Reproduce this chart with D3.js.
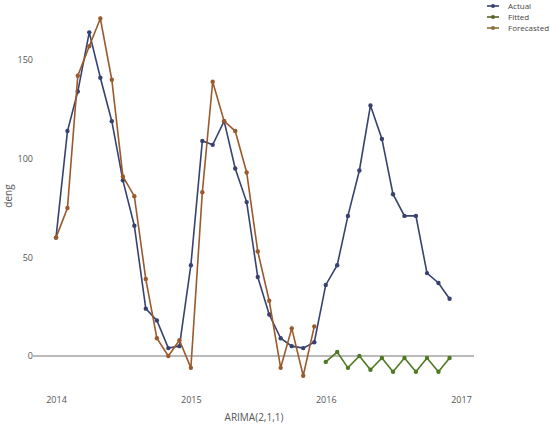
<!DOCTYPE html>
<html>
<head>
<meta charset="utf-8">
<script src="https://cdn.jsdelivr.net/npm/d3@7"></script>
<style>
    body { margin: 0; background: #fff; }
    svg { display: block; font-family: "Open Sans", sans-serif; }
</style>
</head>
<body>
<svg id="chart" width="550" height="424"></svg>
<script>
// monthly values
var actualStart = "2014-01";
var actual = [60, 114, 134, 164, 141, 119, 89, 66, 24, 18, 4, 5,
              46, 109, 107, 119, 95, 78, 40, 21, 9, 5, 4, 7,
              36, 46, 71, 94, 127, 110, 82, 71, 71, 42, 37, 29];
var fittedStart = "2014-01";
var fitted = [60, 75, 142, 157, 171, 140, 91, 81, 39, 9, 0, 8,
              -6, 83, 139, 119, 114, 93, 53, 28, -6, 14, -10, 15];
var forecastStart = "2016-01";
var forecast = [-3, 2, -6, 0, -7, -1, -8, -1, -8, -1, -8, -1];
var yTicks = [0, 50, 100, 150];
var xTicks = ["2014", "2015", "2016", "2017"];
var seriesNames = ["Actual", "Fitted", "Forecasted"];
var lineColors = ["#38426f", "#9a5a2c", "#4f7a22"];
var legendColors = ["#38426f", "#5b6128", "#8a7034"];

var parseMonth = d3.timeParse("%Y-%m");
var parseYear = d3.timeParse("%Y");

function toPoints(start, values) {
    var d0 = parseMonth(start);
    return values.map(function (v, i) { return { date: d3.timeMonth.offset(d0, i), value: v }; });
}

var svg = d3.select("#chart");
var x = d3.scaleTime()
    .domain([parseYear("2014"), parseYear("2017")])
    .range([56, 461]);
var y = d3.scaleLinear()
    .domain([0, 150])
    .range([356, 60]);

// zero line
svg.append("line")
    .attr("x1", 33).attr("x2", 474)
    .attr("y1", y(0)).attr("y2", y(0))
    .attr("stroke", "#777").attr("stroke-width", 1.2);

// axes (text only, like plotly)
var yAxis = d3.axisLeft(y).tickValues(yTicks).tickSize(0).tickPadding(0);
svg.append("g")
    .attr("transform", "translate(33,0)")
    .call(yAxis)
    .call(function (g) { g.select(".domain").remove(); })
    .selectAll("text")
    .attr("fill", "#555").attr("font-size", 9).attr("font-family", "Open Sans");

var xAxis = d3.axisBottom(x).tickValues(xTicks.map(parseYear)).tickFormat(d3.timeFormat("%Y")).tickSize(0).tickPadding(0);
svg.append("g")
    .attr("transform", "translate(0,397)")
    .call(xAxis)
    .call(function (g) { g.select(".domain").remove(); })
    .selectAll("text")
    .attr("fill", "#555").attr("font-size", 9).attr("font-family", "Open Sans");

// titles
svg.append("text")
    .attr("x", 254).attr("y", 421)
    .attr("text-anchor", "middle")
    .attr("font-size", 10).attr("fill", "#555")
    .text("ARIMA(2,1,1)");
svg.append("text")
    .attr("transform", "translate(12,196) rotate(-90)")
    .attr("text-anchor", "middle")
    .attr("font-size", 10).attr("fill", "#555")
    .text("deng");

var series = [toPoints(actualStart, actual), toPoints(fittedStart, fitted), toPoints(forecastStart, forecast)];
var line = d3.line()
    .x(function (d) { return x(d.date); })
    .y(function (d) { return y(d.value); });

series.forEach(function (pts, i) {
    var g = svg.append("g");
    g.append("path")
        .datum(pts)
        .attr("d", line)
        .attr("fill", "none")
        .attr("stroke", lineColors[i])
        .attr("stroke-width", 1.6);
    g.selectAll("circle")
        .data(pts)
        .enter().append("circle")
        .attr("cx", function (d) { return x(d.date); })
        .attr("cy", function (d) { return y(d.value); })
        .attr("r", 2.2)
        .attr("fill", lineColors[i]);
});

// legend
var legend = svg.append("g").attr("transform", "translate(487,6)");
seriesNames.forEach(function (name, i) {
    var row = legend.append("g").attr("transform", "translate(0," + (i * 11) + ")");
    row.append("line")
        .attr("x1", 0).attr("x2", 12)
        .attr("stroke", legendColors[i]).attr("stroke-width", 1.6);
    row.append("circle").attr("cx", 6).attr("r", 2).attr("fill", legendColors[i]);
    row.append("text")
        .attr("x", 21).attr("dy", "0.35em")
        .attr("font-size", 8).attr("fill", "#444")
        .text(name);
});
</script>
</body>
</html>
